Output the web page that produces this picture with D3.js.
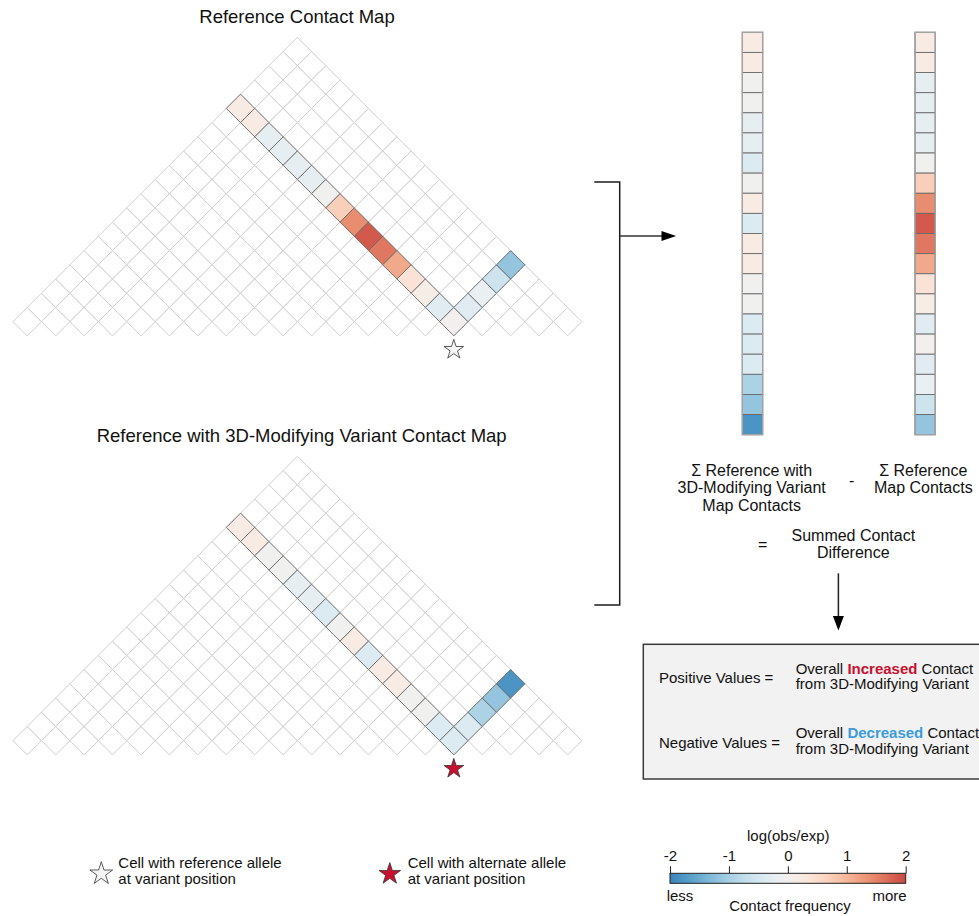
<!DOCTYPE html>
<html>
<head>
<meta charset="utf-8">
<script src="https://cdn.jsdelivr.net/npm/d3@7"></script>
<style>
  html, body { margin: 0; padding: 0; background: #fff; }
  svg { display: block; font-family: "Liberation Sans", Arial, Helvetica, sans-serif; }
  text { fill: #111; }
</style>
</head>
<body>
<svg id="fig" width="979" height="916"></svg>
<script>
// ---- data -----------------------------------------------------------------
// number of genomic bins in each contact map, and the bin holding the variant
const nBins = 20;
const variantBin = 15;

// log(obs/exp) for the cells of the variant's row/column "V" (16 cells up the
// left arm ending at the variant cell, then 4 cells up the right arm)
const refContacts = [0.2, 0.2, -0.25, -0.25, -0.25, -0.25, -0.05, 0.7, 1.4, 1.85,
                     1.6, 1.15, 0.4, 0.15, -0.35, 0.0, -0.35, -0.2, -0.6, -1.15];
const varContacts = [0.2, 0.2, -0.05, -0.05, -0.25, -0.25, -0.4, -0.05, 0.2, -0.4,
                     0.2, 0.2, -0.05, -0.05, -0.4, -0.4, -0.4, -0.95, -1.15, -1.8];

// colour bar ticks and end labels
const colorTicks = [-2, -1, 0, 1, 2];
const colorEnds = ["less", "more"];

// ---- setup ----------------------------------------------------------------
const svg = d3.select("#fig");
const color = d3.scaleSequential(d3.interpolateRdBu).domain([3, -3]);

// cells of the "V" through the variant bin
const vCells = [
  ...d3.range(0, variantBin + 1).map(i => [i, variantBin]),
  ...d3.range(variantBin + 1, nBins).map(j => [variantBin, j])
];

// every cell of the upper triangle
const allCells = [];
for (let i = 0; i < nBins; i++) for (let j = i; j < nBins; j++) allCells.push([i, j]);

// genomic position along the baseline, and distance from the diagonal
const xPos = d3.scaleLinear().domain([0, nBins]).range([13, 581.8]);
const yDist = d3.scaleLinear().domain([0, nBins]).range([0, -284.4]);

function drawMap(base, values, starFill, title, titleX) {
  const g = svg.append("g");
  const P = (a, b) => [xPos((a + b) / 2), base + yDist(b - a)];
  const cellPath = ([i, j]) => {
    const pts = [P(i, j), P(i + 1, j), P(i + 1, j + 1), P(i, j + 1)];
    return "M" + pts.map(p => p.join(",")).join("L") + "Z";
  };

  g.selectAll("path.grid").data(allCells).join("path")
    .attr("class", "grid")
    .attr("d", cellPath)
    .attr("fill", "#fff")
    .attr("stroke", "#cfcfcf")
    .attr("stroke-width", 1);

  g.selectAll("path.hl").data(vCells).join("path")
    .attr("class", "hl")
    .attr("d", cellPath)
    .attr("fill", (c, k) => color(values[k]))
    .attr("stroke", "#6a6a6a")
    .attr("stroke-width", 0.9);

  // variant marker under the diagonal cell
  const tip = P(variantBin + 1, variantBin);
  g.append("path")
    .attr("d", d3.symbol(d3.symbolStar, 10.3 * 10.3 / 0.8908130915292852)())
    .attr("transform", `translate(${tip[0]},${tip[1] + 13.8})`)
    .attr("fill", starFill)
    .attr("stroke", "#333")
    .attr("stroke-width", 0.8);

  g.append("text")
    .attr("x", titleX).attr("y", base - 299)
    .attr("text-anchor", "middle")
    .attr("font-size", 18.5)
    .text(title);
}

drawMap(321.67, refContacts, "#f4f4f4", "Reference Contact Map", 297);
drawMap(740.67, varContacts, "#c8102e", "Reference with 3D-Modifying Variant Contact Map", 301.7);

// ---- summed columns -------------------------------------------------------
const yCol = d3.scaleBand().domain(d3.range(vCells.length)).range([32.3, 434.7]);

function drawColumn(x0, w, values) {
  const g = svg.append("g");
  g.selectAll("rect").data(values).join("rect")
    .attr("x", x0).attr("y", (v, k) => yCol(k))
    .attr("width", w).attr("height", yCol.bandwidth())
    .attr("fill", v => color(v))
    .attr("stroke", "#6a6a6a")
    .attr("stroke-width", 0.9);
  g.append("rect")
    .attr("x", x0).attr("y", yCol.range()[0])
    .attr("width", w).attr("height", yCol.range()[1] - yCol.range()[0])
    .attr("fill", "none")
    .attr("stroke", "#a3a3a3")
    .attr("stroke-width", 1.4);
}
drawColumn(742.3, 20.4, varContacts);
drawColumn(915, 20.2, refContacts);

// ---- bracket and arrows ---------------------------------------------------
const ink = "#1c1c1c";
svg.append("path")
  .attr("d", "M594.3,182H619.7V605H594.3")
  .attr("fill", "none").attr("stroke", ink).attr("stroke-width", 1.5);
svg.append("line")
  .attr("x1", 619.7).attr("y1", 236).attr("x2", 664).attr("y2", 236)
  .attr("stroke", "#333").attr("stroke-width", 1.5);
svg.append("path")
  .attr("d", "M676,236L661.5,231L661.5,241Z").attr("fill", "#000");

svg.append("line")
  .attr("x1", 838.4).attr("y1", 573.3).attr("x2", 838.4).attr("y2", 618)
  .attr("stroke", "#222").attr("stroke-width", 1.5);
svg.append("path")
  .attr("d", "M838.4,630.5L832.9,616L843.9,616Z").attr("fill", "#000");

// ---- formula labels -------------------------------------------------------
function lines(x, ys, strs, size, anchor) {
  strs.forEach((s, k) => {
    svg.append("text")
      .attr("x", x).attr("y", ys[k])
      .attr("text-anchor", anchor || "middle")
      .attr("font-size", size)
      .text(s);
  });
}
lines(751.7, [475.7, 493.2, 510.7], ["Σ Reference with", "3D-Modifying Variant", "Map Contacts"], 16);
lines(851.7, [486], ["-"], 16);
lines(923.3, [475.7, 493.2], ["Σ Reference", "Map Contacts"], 16);
lines(762.7, [549.7], ["="], 16);
lines(853.3, [541, 558.3], ["Summed Contact", "Difference"], 16);

// ---- interpretation box ---------------------------------------------------
svg.append("rect")
  .attr("x", 643.3).attr("y", 644.3)
  .attr("width", 360).attr("height", 134.7)
  .attr("fill", "#f2f2f2")
  .attr("stroke", "#3a3a3a").attr("stroke-width", 1.5);

function keyLine(y, word, wordColor) {
  const t = svg.append("text").attr("x", 795.7).attr("y", y).attr("font-size", 15);
  t.append("tspan").text("Overall ");
  t.append("tspan").attr("font-weight", "bold").style("fill", wordColor).text(word);
  t.append("tspan").text(" Contact");
}
lines(659, [683.3], ["Positive Values ="], 15, "start");
keyLine(673.7, "Increased", "#c8102e");
lines(795.7, [689], ["from 3D-Modifying Variant"], 15, "start");
lines(659, [747.7], ["Negative Values ="], 15, "start");
keyLine(738.3, "Decreased", "#3b9ddd");
lines(795.7, [754.3], ["from 3D-Modifying Variant"], 15, "start");

// ---- marker legend --------------------------------------------------------
const legendStar = d3.symbol(d3.symbolStar, 12 * 12 / 0.8908130915292852)();
svg.append("path").attr("d", legendStar)
  .attr("transform", "translate(101.3,873.7)")
  .attr("fill", "#f4f4f4").attr("stroke", "#333").attr("stroke-width", 0.8);
lines(118.3, [868.3, 884.3], ["Cell with reference allele", "at variant position"], 15, "start");
svg.append("path").attr("d", d3.symbol(d3.symbolStar, 11.4 * 11.4 / 0.8908130915292852)())
  .attr("transform", "translate(389.8,874)")
  .attr("fill", "#c8102e").attr("stroke", "#333").attr("stroke-width", 0.8);
lines(407.7, [868.3, 884.3], ["Cell with alternate allele", "at variant position"], 15, "start");

// ---- colour bar -----------------------------------------------------------
const cb = d3.scaleLinear().domain([colorTicks[0], colorTicks[colorTicks.length - 1]]).range([670, 905.7]);
const grad = svg.append("defs").append("linearGradient").attr("id", "cbar");
d3.range(0, 1.0001, 0.05).forEach(f => {
  const v = cb.domain()[0] + f * (cb.domain()[1] - cb.domain()[0]);
  grad.append("stop").attr("offset", f).attr("stop-color", color(v));
});
const barTop = 873.3, barH = 10;
svg.append("rect")
  .attr("x", cb.range()[0]).attr("y", barTop)
  .attr("width", cb.range()[1] - cb.range()[0]).attr("height", barH)
  .attr("fill", "url(#cbar)")
  .attr("stroke", "#222").attr("stroke-width", 1);

const axis = svg.append("g")
  .attr("transform", `translate(0,${barTop})`)
  .call(d3.axisTop(cb).tickValues(colorTicks).tickSize(7).tickPadding(5).tickFormat(d3.format("d")));
axis.select(".domain").remove();
axis.selectAll(".tick line").attr("stroke", "#222").attr("stroke-width", 1);
axis.selectAll(".tick text")
  .attr("font-size", 15)
  .attr("font-family", "Liberation Sans, Arial, sans-serif")
  .style("fill", "#111")
  .text(d => d < 0 ? "-" + Math.abs(d) : d);

lines(788.3, [840.7], ["log(obs/exp)"], 15);
lines(666.7, [901], [colorEnds[0]], 15, "start");
lines(906.7, [901], [colorEnds[1]], 15, "end");
lines(790, [910.7], ["Contact frequency"], 15);
</script>
</body>
</html>
